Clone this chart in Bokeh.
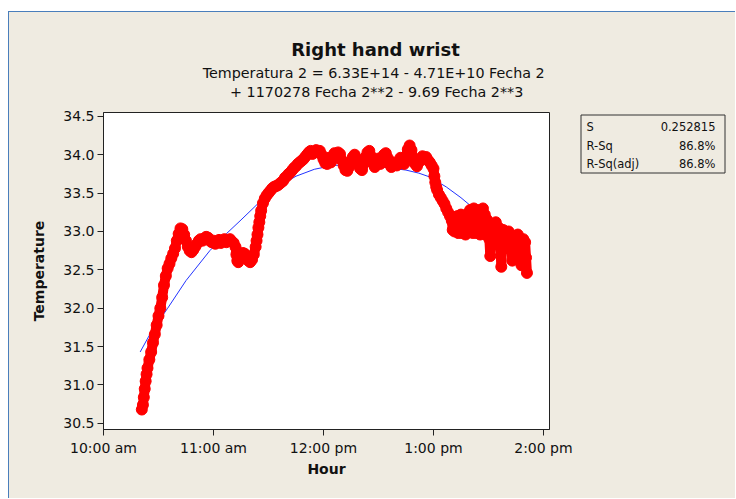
from bokeh.plotting import figure
from bokeh.layouts import row, column
from bokeh.models import FixedTicker, PrintfTickFormatter, Range1d, ColumnDataSource, Spacer
from bokeh.core.properties import value
from bokeh.embed import file_html
from bokeh.resources import INLINE

# ---------------- data ----------------
title_text = "Right hand wrist"
equation_lines = ["Temperatura 2 =  6.33E+14 - 4.71E+10 Fecha 2",
                  "+ 1170278 Fecha 2**2 - 9.69 Fecha 2**3"]
x_label = "Hour"
y_label = "Temperature"

x_ticks = [10, 11, 12, 13, 14]
x_tick_labels = ["10:00 am", "11:00 am", "12:00 pm", "1:00 pm", "2:00 pm"]
y_ticks = [30.5, 31.0, 31.5, 32.0, 32.5, 33.0, 33.5, 34.0, 34.5]

stat_names = ["S", "R-Sq", "R-Sq(adj)"]
stat_values = ["0.252815", "86.8%", "86.8%"]

# measured temperature, minutes after 10:00 am
minutes = [20.9, 21.5, 22.0, 22.5, 23.0, 23.5, 24.0, 25.0, 26.0, 27.0, 28.0, 29.0, 30.0,
           31.0, 32.0, 33.0, 34.0, 35.0, 36.0, 37.0, 38.0, 39.0, 40.0, 41.0, 42.0, 43.0,
           44.0, 45.0, 46.0, 47.0, 48.0, 49.0, 50.0, 51.0, 52.0, 53.0, 54.0, 55.0, 56.0,
           57.0, 58.0, 59.0, 60.0, 61.0, 62.0, 63.0, 64.0, 65.0, 66.0, 67.0, 68.0, 69.0,
           70.0, 71.0, 72.0, 72.5, 73.0, 73.5, 74.0, 75.0, 76.0, 77.0, 78.0, 79.0, 80.0,
           81.0, 82.0, 83.0, 83.5, 84.0, 84.5, 85.0, 85.5, 86.0, 87.0, 88.0, 89.0, 90.0,
           91.0, 92.0, 93.0, 94.0, 95.0, 96.0, 97.0, 98.0, 99.0, 100.0, 101.0, 102.0, 103.0,
           104.0, 105.0, 106.0, 107.0, 108.0, 109.0, 110.0, 111.0, 112.0, 113.0, 114.0, 115.0,
           116.0, 117.0, 118.0, 119.0, 120.0, 121.0, 122.0, 123.0, 124.0, 125.0, 126.0, 127.0,
           128.0, 129.0, 130.0, 131.0, 132.0, 133.0, 134.0, 135.0, 136.0, 137.0, 138.0, 139.0,
           140.0, 141.0, 142.0, 143.0, 144.0, 145.0, 146.0, 147.0, 148.0, 149.0, 150.0, 151.0,
           152.0, 153.0, 154.0, 155.0, 156.0, 157.0, 158.0, 159.0, 160.0, 161.0, 162.0, 163.0,
           164.0, 165.0, 166.0, 167.0, 168.0, 169.0, 170.0, 171.0, 172.0, 173.0, 174.0, 175.0,
           176.0, 177.0, 178.0, 179.0, 180.0, 180.5, 181.0, 181.5, 182.0, 183.0, 184.0, 185.0,
           186.0, 187.0, 188.0, 189.0,
           190.0, 190.5, 191.0, 191.5, 192.0, 192.5, 193.0, 193.5, 194.0, 194.5, 195.0, 195.5,
           196.0, 196.5, 197.0, 197.5, 198.0, 198.5, 199.0, 199.5, 200.0, 200.5, 201.0, 201.5,
           202.0, 202.5, 203.0, 203.5, 204.0, 204.5, 205.0, 205.5, 206.0, 206.5, 207.0, 207.5,
           208.0, 208.5, 209.0, 209.5, 210.0, 210.5, 211.0, 211.5, 212.0, 212.5, 213.0, 213.5,
           214.0, 214.5, 215.0, 215.5, 216.0, 216.5, 217.0, 217.5, 218.0, 218.5, 219.0, 219.5,
           220.0, 220.5, 221.0, 221.5, 222.0, 222.5, 223.0, 223.5, 224.0, 224.5, 225.0, 225.5,
           226.0, 226.5, 227.0, 227.5, 228.0, 228.5, 229.0, 229.5, 230.0, 230.5, 231.0]
temperature = [30.68, 30.74, 30.84, 30.95, 31.05, 31.14, 31.22, 31.33, 31.43, 31.55, 31.66, 31.78, 31.90,
               32.00, 32.14, 32.30, 32.42, 32.52, 32.58, 32.65, 32.71, 32.78, 32.88, 32.97, 33.04, 33.03,
               32.96, 32.88, 32.80, 32.75, 32.73, 32.76, 32.80, 32.84, 32.88, 32.90, 32.88, 32.91, 32.93,
               32.92, 32.88, 32.86, 32.88, 32.84, 32.87, 32.89, 32.85, 32.88, 32.90, 32.86, 32.88, 32.90,
               32.87, 32.85, 32.80, 32.70, 32.62, 32.60, 32.64, 32.70, 32.72, 32.71, 32.66, 32.62, 32.60,
               32.63, 32.70, 32.80, 32.88, 32.96, 33.05, 33.12, 33.20, 33.27, 33.37, 33.43, 33.47, 33.50,
               33.53, 33.56, 33.58, 33.59, 33.60, 33.62, 33.64, 33.66, 33.70, 33.72, 33.75, 33.77, 33.80,
               33.83, 33.85, 33.88, 33.90, 33.92, 33.94, 33.97, 34.00, 34.03, 34.05, 34.01, 34.04,
               34.06, 34.03, 34.05, 34.00, 33.94, 33.89, 33.88, 33.96, 33.90, 33.98, 34.02, 33.96,
               34.03, 34.01, 33.93, 33.86, 33.80, 33.79, 33.84, 33.90, 33.97, 34.00, 33.95, 33.88,
               33.82, 33.80, 33.88, 33.97, 34.03, 34.05, 33.98, 33.90, 33.84, 33.90, 33.95, 33.88,
               33.94, 34.00, 34.02, 33.96, 33.88, 33.84, 33.90, 33.88, 33.86, 33.90, 33.96, 33.92,
               33.88, 33.98, 34.07, 34.12, 34.06, 33.95, 33.88, 33.85, 33.90, 33.94, 33.98, 33.95,
               33.97, 33.93, 33.90, 33.86, 33.82, 33.72, 33.64, 33.58, 33.54, 33.48, 33.44, 33.40,
               33.36, 33.30, 33.25, 33.20,
               33.14, 33.02, 33.18, 33.00, 33.16, 33.04, 33.20, 32.98, 33.14, 33.02, 33.22, 32.98,
               33.12, 33.00, 33.20, 32.96, 33.18, 33.02, 33.24, 33.00, 33.28, 33.04, 33.26, 32.98,
               33.30, 33.06, 33.22, 32.98, 33.28, 33.02, 33.20, 32.96, 33.26, 33.08, 33.30, 33.00,
               33.22, 32.96, 33.16, 32.94, 33.12, 32.90, 32.68, 32.92, 33.10, 32.88, 33.08, 32.90,
               33.12, 32.86, 33.06, 32.88, 33.04, 32.84, 32.54, 32.86, 33.02, 32.82, 33.00, 32.84,
               32.98, 32.80, 33.00, 32.78, 32.96, 32.80, 32.62, 32.82, 32.94, 32.76, 32.92, 32.78,
               32.96, 32.74, 32.90, 32.72, 32.56, 32.76, 32.90, 32.70, 32.86, 32.66, 32.46]

# fitted cubic regression line
fit_minutes = [20, 26, 35, 45, 58, 67, 75, 85, 95, 105, 115, 125, 135, 145, 155, 165,
               172, 178, 187, 195, 200, 210, 220, 231]
fit_temperature = [31.43, 31.69, 32.00, 32.36, 32.75, 32.97, 33.15, 33.38, 33.58, 33.72, 33.81,
                   33.86, 33.87, 33.86, 33.83, 33.80, 33.76, 33.71, 33.58, 33.44, 33.34, 33.18,
                   33.00, 32.78]

# ---------------- styling ----------------
BG = "#EFEBE1"
INK = "#111111"
FONT = "DejaVu Sans"
FRAME_BLUE = "#4A7EBB"

X0, X1 = 10.0, 14.055
Y0, Y1 = 30.42, 34.55

MAIN_W, STATS_W = 566, 160
HEADER_H, BODY_H = 93, 393
PAGE_LEFT, HEADER_TOP = 9, 12            # where the beige panel starts on the page
BODY_TOP = HEADER_TOP + HEADER_H
BORDER_TOP, BORDER_BOTTOM = 7, 69
FRAME_TOP = BODY_TOP + BORDER_TOP
FRAME_BOTTOM = BODY_TOP + BODY_H - BORDER_BOTTOM
STATS_LEFT = PAGE_LEFT + MAIN_W

# ---------------- header: title and regression equation ----------------
h = figure(width=MAIN_W + STATS_W, height=HEADER_H, output_backend="svg", toolbar_location=None,
           x_range=Range1d(PAGE_LEFT, PAGE_LEFT + MAIN_W + STATS_W),
           y_range=Range1d(BODY_TOP, HEADER_TOP),
           x_axis_type=None, y_axis_type=None, min_border=0)
h.background_fill_color = BG
h.border_fill_color = BG
h.outline_line_color = None
h.grid.visible = False
h.text(x=[375], y=[48.5], text=[title_text], text_align="center", text_baseline="alphabetic",
       text_font=value(FONT), text_font_size="18px", text_font_style="bold", text_color=INK)
h.text(x=[375.4, 376.2], y=[72, 91.5], text=equation_lines, text_align="center",
       text_baseline="alphabetic", text_font=value(FONT), text_font_size="14.3px", text_color=INK)

# ---------------- main plot ----------------
p = figure(width=MAIN_W, height=BODY_H, output_backend="svg", toolbar_location=None,
           x_range=Range1d(X0, X1), y_range=Range1d(Y0, Y1),
           min_border_left=94, min_border_right=26,
           min_border_top=BORDER_TOP, min_border_bottom=BORDER_BOTTOM)
p.background_fill_color = "white"
p.border_fill_color = BG
p.outline_line_color = "#222222"
p.outline_line_width = 1
p.grid.visible = False

hours = [10 + m / 60.0 for m in minutes]
fit_hours = [10 + m / 60.0 for m in fit_minutes]

p.line(fit_hours, fit_temperature, line_color="#2233FF", line_width=1)
src = ColumnDataSource(dict(x=hours, y=temperature))
p.line("x", "y", source=src, line_color="#FF0000", line_width=10, line_join="round", line_cap="round")
p.scatter("x", "y", source=src, size=11, fill_color="#FF0000", line_color="#FF0000")

p.xaxis.ticker = FixedTicker(ticks=x_ticks)
p.xaxis.major_label_overrides = {t: l for t, l in zip(x_ticks, x_tick_labels)}
p.yaxis.ticker = FixedTicker(ticks=y_ticks)
p.yaxis.formatter = PrintfTickFormatter(format="%.1f")
p.xaxis.axis_label = x_label
p.yaxis.axis_label = y_label
for ax in (p.xaxis[0], p.yaxis[0]):
    ax.major_label_text_font = FONT
    ax.major_label_text_font_size = "14px"
    ax.major_label_text_color = INK
    ax.axis_label_text_font = FONT
    ax.axis_label_text_font_size = "14px"
    ax.axis_label_text_font_style = "bold"
    ax.axis_label_text_color = INK
    ax.major_tick_in = 0
    ax.major_tick_out = 6
    ax.minor_tick_line_color = None
    ax.axis_line_color = "#222222"
    ax.major_tick_line_color = "#222222"
p.yaxis.major_label_standoff = 3
p.yaxis.axis_label_standoff = 13
p.xaxis.major_label_standoff = 4
p.xaxis.axis_label_standoff = 2

# ---------------- statistics panel (page-pixel coordinates) ----------------
s = figure(width=STATS_W, height=BODY_H, output_backend="svg", toolbar_location=None,
           x_range=Range1d(STATS_LEFT, STATS_LEFT + STATS_W),
           y_range=Range1d(FRAME_BOTTOM, FRAME_TOP),
           x_axis_type=None, y_axis_type=None,
           min_border_left=0, min_border_right=0,
           min_border_top=BORDER_TOP, min_border_bottom=BORDER_BOTTOM)
s.background_fill_color = BG
s.border_fill_color = BG
s.outline_line_color = None
s.grid.visible = False
s.quad(left=[580.5], right=[724.5], top=[114.5], bottom=[172.5],
       fill_color=BG, line_color="#333333", line_width=1)
row_y = [126, 145, 163.7]
s.text(x=[586] * 3, y=row_y, text=stat_names, text_align="left", text_baseline="alphabetic",
       text_font=value(FONT), text_font_size="11.5px", text_color=INK)
s.text(x=[715] * 3, y=row_y, text=stat_values, text_align="right", text_baseline="alphabetic",
       text_font=value(FONT), text_font_size="11.5px", text_color=INK)

# ---------------- page layout: white margin + thin blue frame ----------------
vline = Spacer(width=1, height=HEADER_H + BODY_H, styles={"background-color": FRAME_BLUE})
hline = Spacer(width=1 + MAIN_W + STATS_W, height=1, styles={"background-color": FRAME_BLUE})
inner = column(h, row(p, s, styles={"background-color": BG}), styles={"background-color": BG})
body = column(Spacer(width=1 + MAIN_W + STATS_W, height=11), hline, row(vline, inner))
layout = row(Spacer(width=8, height=10), body)

open("out.html", "w").write(file_html(layout, INLINE))
